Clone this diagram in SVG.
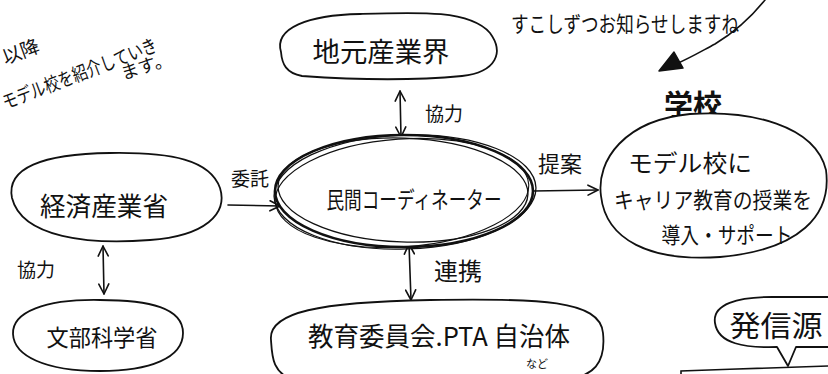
<svg xmlns="http://www.w3.org/2000/svg" width="828" height="374" viewBox="0 0 828 374">
<defs>
<marker id="open" viewBox="0 0 12 12" refX="11" refY="6" markerWidth="12" markerHeight="12" markerUnits="userSpaceOnUse" orient="auto-start-reverse">
<path d="M1,1 L11,6 L1,11" fill="none" stroke="#111" stroke-width="1.6" stroke-linecap="round" stroke-linejoin="round"/>
</marker>
</defs>
<style>
.sh{fill:#fff;stroke:#111;stroke-width:1.8;stroke-linecap:round;stroke-linejoin:round}
.ln{fill:none;stroke:#111;stroke-width:1.6;stroke-linecap:round}
.t{font-family:"Noto Sans CJK JP","Noto Sans",sans-serif;fill:#111;text-anchor:middle}
.b{font-weight:700}
</style>
<rect width="828" height="374" fill="#fff"/>

<g id="note-left">
<text class="t" font-size="19" transform="translate(23,58) rotate(-20)">以降</text>
<text class="t" font-size="19" textLength="164" lengthAdjust="spacingAndGlyphs" transform="translate(82,80) rotate(-21)">モデル校を紹介していき</text>
<text class="t" font-size="18" transform="translate(148,72) rotate(-18)">ます。</text>
</g>

<g id="note-top">
<text class="t" font-size="22" x="625" y="32" textLength="228" lengthAdjust="spacingAndGlyphs">すこしずつお知らせしますね</text>
</g>

<g id="connectors">
<path class="ln" d="M765,0 C752,16 735,32 715,44 C700,52 690,58 676,64"/>
<polygon points="659,71 674,52 683,68" fill="#111" stroke="#111" stroke-width="1.5" stroke-linejoin="round"/>
<line class="ln" x1="228" y1="205" x2="280" y2="206" marker-end="url(#open)"/>
<line class="ln" x1="400" y1="91" x2="401" y2="137" marker-start="url(#open)" marker-end="url(#open)"/>
<line class="ln" x1="533" y1="191" x2="598" y2="190" marker-end="url(#open)"/>
<line class="ln" x1="409" y1="244" x2="411" y2="300" marker-start="url(#open)" marker-end="url(#open)"/>
<line class="ln" x1="103" y1="246" x2="104" y2="294" marker-start="url(#open)" marker-end="url(#open)"/>
<text class="t" font-size="19" x="250" y="186">委託</text>
<text class="t" font-size="19" x="444" y="121">協力</text>
<text class="t" font-size="22" x="560" y="172">提案</text>
<text class="t" font-size="24" x="458" y="280">連携</text>
<text class="t" font-size="19" x="36" y="277">協力</text>
</g>

<g id="node-jimoto">
<path class="sh" d="M281,52 C274,28 308,15 360,14 C420,12 470,10 490,33 C504,52 497,72 462,76 C420,80 372,81 302,76 C286,73 282,64 281,52 Z"/>
<text class="t" font-size="27" x="381" y="62" textLength="137" lengthAdjust="spacingAndGlyphs">地元産業界</text>
</g>

<g id="node-meti">
<path class="sh" d="M12,198 C6,168 42,154 110,153 C172,152 210,160 220,188 C228,214 205,236 150,240 C90,245 22,238 12,198 Z"/>
<text class="t" font-size="26" x="104" y="216" textLength="128" lengthAdjust="spacingAndGlyphs">経済産業省</text>
</g>

<g id="node-mext">
<path class="sh" d="M13,334 C12,312 45,299 100,300 C150,300 183,308 183,333 C183,358 150,371 100,371 C45,371 14,356 13,334 Z"/>
<text class="t" font-size="23" x="102" y="346" textLength="111" lengthAdjust="spacingAndGlyphs">文部科学省</text>
</g>

<g id="node-coordinator">
<ellipse cx="404" cy="191" rx="129" ry="56" fill="#fff" stroke="#111" stroke-width="2.6"/>
<ellipse cx="403" cy="190" rx="125" ry="52" fill="none" stroke="#111" stroke-width="1.3" transform="rotate(2 403 190)"/>
<ellipse cx="405" cy="192" rx="131" ry="57" fill="none" stroke="#111" stroke-width="1.3" transform="rotate(-2 405 192)"/>
<ellipse cx="402" cy="193" rx="127" ry="54" fill="none" stroke="#111" stroke-width="1.1" transform="rotate(-4 402 193)"/>
<text class="t" font-size="23" x="414" y="208" textLength="175" lengthAdjust="spacingAndGlyphs">民間コーディネーター</text>
</g>

<g id="node-school">
<text class="t b" font-size="29" x="693" y="116">学校</text>
<path class="sh" d="M601,196 C596,160 625,120 690,114 C750,110 815,125 826,170 C832,215 800,250 720,257 C650,262 606,240 601,196 Z"/>
<text class="t" font-size="24" x="690" y="172" textLength="124" lengthAdjust="spacingAndGlyphs">モデル校に</text>
<text class="t" font-size="22" x="713" y="208" textLength="198" lengthAdjust="spacingAndGlyphs">キャリア教育の授業を</text>
<text class="t" font-size="22" x="727" y="243" textLength="131" lengthAdjust="spacingAndGlyphs">導入・サポート</text>
</g>

<g id="node-local">
<path class="sh" d="M271,340 C268,312 320,302 430,300 C540,298 600,300 603,333 C606,362 595,378 560,380 L295,380 C272,374 272,356 271,340 Z"/>
<text class="t" font-size="26" x="439" y="346" textLength="262" lengthAdjust="spacingAndGlyphs">教育委員会.PTA 自治体</text>
<text class="t" font-size="11" x="537" y="368">など</text>
</g>

<g id="node-source">
<path class="sh" d="M830,347 L796,347 L788,366 L777,347 C745,348 718,344 715,323 C712,304 738,297 772,297 L830,297"/>
<text class="t" font-size="29" x="776" y="337" textLength="93" lengthAdjust="spacingAndGlyphs">発信源</text>
<path class="ln" d="M681,376 L681,371 C730,369 780,368 828,366"/>
</g>
</svg>
